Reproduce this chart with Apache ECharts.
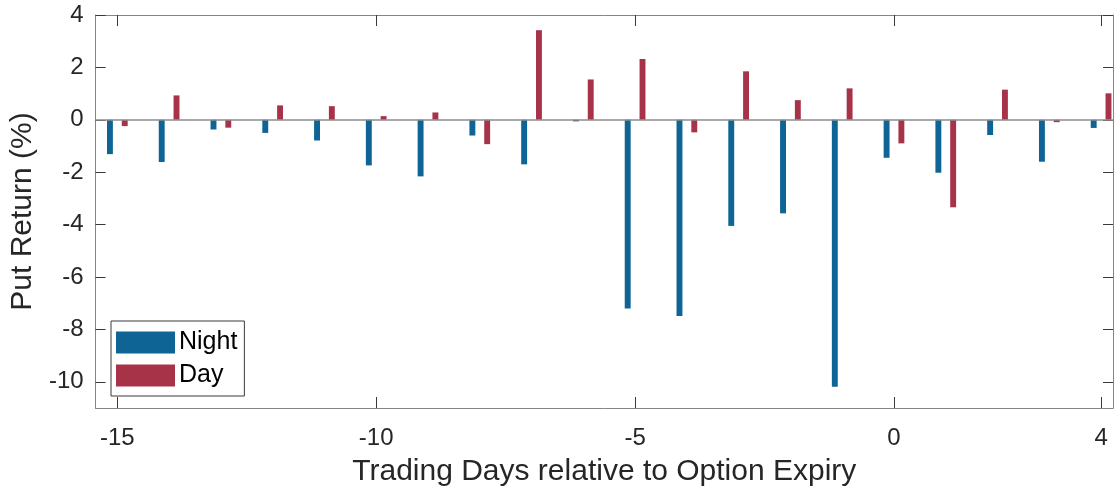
<!DOCTYPE html>
<html>
<head>
<meta charset="utf-8">
<title>Put Return around Option Expiry</title>
<script src="https://cdn.jsdelivr.net/npm/echarts@6/dist/echarts.min.js"></script>
<style>
  html, body { margin: 0; padding: 0; background: #fff; }
  #chart { width: 1115px; height: 495px; }
</style>
</head>
<body>
<div id="chart"></div>
<script>
// Trading days relative to option expiry
const days = [-15, -14, -13, -12, -11, -10, -9, -8, -7, -6, -5, -4, -3, -2, -1, 0, 1, 2, 3, 4];
// Average put return (%) over the night session
const night = [-1.31, -1.61, -0.37, -0.50, -0.79, -1.74, -2.16, -0.60, -1.70, -0.06,
               -7.20, -7.49, -4.05, -3.57, -10.19, -1.45, -2.02, -0.58, -1.60, -0.31];
// Average put return (%) over the day session
const day = [-0.24, 0.93, -0.30, 0.55, 0.52, 0.14, 0.28, -0.93, 3.42, 1.54,
             2.32, -0.48, 1.85, 0.75, 1.20, -0.90, -3.34, 1.15, -0.09, 1.01];

const xTicks = [-15, -10, -5, 0, 4];
const yTicks = [-10, -8, -6, -4, -2, 0, 2, 4];

const NIGHT_COLOR = '#0e6494';
const DAY_COLOR = '#a63348';
const TEXT_COLOR = '#262626';
const FONT = '"Liberation Sans", Arial, Helvetica, sans-serif';

// grouped-bar geometry in axis units
const GROUP_OFFSET = 0.1429;
const BAR_HALF = 0.0571;

function barRenderer(offset, color) {
  return function (params, api) {
    const x = api.value(0);
    const y = api.value(1);
    const a = api.coord([x + offset - BAR_HALF, 0]);
    const b = api.coord([x + offset + BAR_HALF, y]);
    return {
      type: 'rect',
      shape: {
        x: a[0],
        y: Math.min(a[1], b[1]),
        width: b[0] - a[0],
        height: Math.abs(b[1] - a[1])
      },
      style: { fill: color }
    };
  };
}

const xRange = { min: -15.42, max: 4.23 };
const yRange = { min: -11, max: 4 };

const boxLine = { show: true, onZero: false, lineStyle: { color: '#858585', width: 1 } };
const tickStyle = { color: '#3a3a3a', width: 1 };

const chart = echarts.init(document.getElementById('chart'), null, { renderer: 'canvas' });

chart.setOption({
  animation: false,
  backgroundColor: '#ffffff',
  textStyle: { fontFamily: FONT },
  grid: { left: 95, right: 2, top: 15, bottom: 87, containLabel: false },
  legend: {
    data: ['Night', 'Day'],
    orient: 'vertical',
    left: 111,
    top: 321,
    icon: 'rect',
    itemWidth: 59,
    itemHeight: 22,
    itemGap: 8,
    padding: [9, 7, 8, 5],
    backgroundColor: '#ffffff',
    borderColor: '#3a3a3a',
    borderWidth: 1,
    borderRadius: 0,
    textStyle: { fontSize: 25, color: '#000000', fontFamily: FONT, padding: [0, 0, 0, -1] }
  },
  xAxis: [
    {
      type: 'value',
      min: xRange.min,
      max: xRange.max,
      position: 'bottom',
      name: 'Trading Days relative to Option Expiry',
      nameLocation: 'middle',
      nameGap: 49,
      nameTextStyle: { fontSize: 30, color: TEXT_COLOR, fontFamily: FONT },
      axisLine: boxLine,
      axisTick: { show: true, inside: true, length: 11, lineStyle: tickStyle, customValues: xTicks },
      axisLabel: { show: true, margin: 18, fontSize: 24, color: TEXT_COLOR, fontFamily: FONT, customValues: xTicks },
      splitLine: { show: false }
    },
    {
      type: 'value',
      min: xRange.min,
      max: xRange.max,
      position: 'top',
      axisLine: boxLine,
      axisTick: { show: true, inside: true, length: 11, lineStyle: tickStyle, customValues: xTicks },
      axisLabel: { show: false },
      splitLine: { show: false }
    }
  ],
  yAxis: [
    {
      type: 'value',
      min: yRange.min,
      max: yRange.max,
      position: 'left',
      name: 'Put Return (%)',
      nameLocation: 'middle',
      nameGap: 52,
      nameRotate: 90,
      nameTextStyle: { fontSize: 30, color: TEXT_COLOR, fontFamily: FONT },
      axisLine: boxLine,
      axisTick: { show: true, inside: true, length: 10, lineStyle: tickStyle, customValues: yTicks },
      axisLabel: { show: true, margin: 12, fontSize: 24, color: TEXT_COLOR, fontFamily: FONT, customValues: yTicks },
      splitLine: { show: false }
    },
    {
      type: 'value',
      min: yRange.min,
      max: yRange.max,
      position: 'right',
      axisLine: boxLine,
      axisTick: { show: true, inside: true, length: 10, lineStyle: tickStyle, customValues: yTicks },
      axisLabel: { show: false },
      splitLine: { show: false }
    }
  ],
  series: [
    {
      name: 'Night',
      type: 'custom',
      xAxisIndex: 0,
      yAxisIndex: 0,
      itemStyle: { color: NIGHT_COLOR },
      renderItem: barRenderer(-GROUP_OFFSET, NIGHT_COLOR),
      data: days.map((d, i) => [d, night[i]]),
      encode: { x: 0, y: 1 },
      z: 2,
      markLine: {
        silent: true,
        symbol: ['none', 'none'],
        label: { show: false },
        lineStyle: { color: '#8c8c8c', width: 1.5, type: 'solid' },
        data: [{ yAxis: 0 }],
        z: 3
      }
    },
    {
      name: 'Day',
      type: 'custom',
      xAxisIndex: 0,
      yAxisIndex: 0,
      itemStyle: { color: DAY_COLOR },
      renderItem: barRenderer(GROUP_OFFSET, DAY_COLOR),
      data: days.map((d, i) => [d, day[i]]),
      encode: { x: 0, y: 1 },
      z: 2
    }
  ]
});
</script>
</body>
</html>
